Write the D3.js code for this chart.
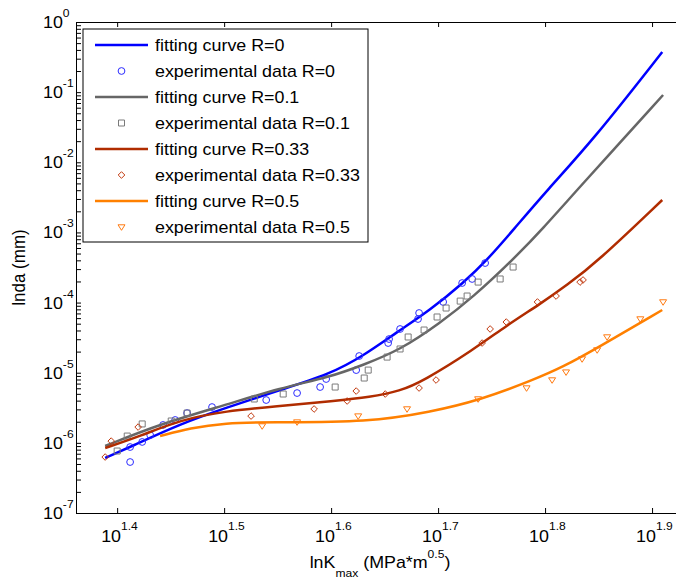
<!DOCTYPE html>
<html>
<head>
<meta charset="utf-8">
<script src="https://cdn.jsdelivr.net/npm/d3@7"></script>
<style>
  body { margin: 0; background: #fff; }
  text { font-family: Arial, "Liberation Sans", sans-serif; fill: #000; }
</style>
</head>
<body>
<div id="chart"></div>
<script>
// values (x in MPa*m^0.5, y in mm)
const fitX_R0 = [24.48, 25.83, 28.77, 31.70, 35.68, 39.73, 42.65, 45.88, 49.26, 52.90, 55.70, 58.90, 63.39, 69.98, 81.19];
const fitY_R0 = [6.08e-7, 8.72e-7, 1.86e-6, 3.14e-6, 5.66e-6, 9.58e-6, 1.73e-5, 3.80e-5, 7.83e-5, 1.90e-4, 4.04e-4, 1.08e-3, 4.03e-3, 2.08e-2, 0.373];
const dataX_R0 = [25.83, 25.83, 26.51, 26.97, 27.73, 28.46, 29.20, 30.81, 34.62, 37.00, 38.88, 39.39, 42.02, 42.29, 45.01, 45.10, 46.18, 48.00, 48.11, 50.67, 52.78, 53.93, 55.46];
const dataY_R0 = [5.33e-7, 8.72e-7, 1.03e-6, 1.29e-6, 1.80e-6, 2.12e-6, 2.66e-6, 3.24e-6, 4.08e-6, 5.13e-6, 6.25e-6, 8.13e-6, 1.09e-5, 1.73e-5, 2.65e-5, 3.02e-5, 4.20e-5, 5.83e-5, 7.10e-5, 1.02e-4, 1.90e-4, 2.17e-4, 3.66e-4];

const fitX_R01 = [24.48, 27.55, 31.70, 35.68, 39.73, 42.65, 46.18, 50.33, 54.04, 58.90, 62.84, 67.59, 81.34];
const fitY_R01 = [9.01e-7, 1.86e-6, 3.46e-6, 6.05e-6, 8.69e-6, 1.29e-5, 2.11e-5, 5.11e-5, 1.20e-4, 4.10e-4, 1.15e-3, 4.03e-3, 0.0910];
const dataX_R01 = [25.12, 25.67, 26.51, 28.22, 29.20, 33.74, 35.91, 40.16, 42.75, 43.12, 44.91, 46.18, 46.99, 48.63, 50.01, 50.99, 52.56, 53.35, 54.63, 57.28, 58.90];
const dataY_R01 = [7.65e-7, 1.25e-6, 1.86e-6, 2.05e-6, 2.66e-6, 4.22e-6, 4.97e-6, 6.25e-6, 8.40e-6, 1.09e-5, 1.67e-5, 2.18e-5, 3.23e-5, 4.06e-5, 6.23e-5, 8.36e-5, 1.05e-4, 1.24e-4, 1.96e-4, 2.17e-4, 3.21e-4];

const fitX_R033 = [24.48, 26.40, 28.77, 31.70, 35.68, 39.99, 43.30, 46.18, 48.53, 54.04, 58.16, 62.43, 66.16, 70.58, 81.19];
const fitY_R033 = [8.44e-7, 1.25e-6, 2.12e-6, 2.85e-6, 3.35e-6, 3.95e-6, 4.50e-6, 5.48e-6, 7.60e-6, 2.11e-5, 4.79e-5, 9.54e-5, 1.78e-4, 3.79e-4, 2.90e-3];
const dataX_R033 = [24.48, 24.80, 26.28, 33.51, 38.38, 41.21, 42.02, 44.73, 48.11, 49.90, 55.10, 56.06, 58.04, 62.07, 64.61, 68.03, 68.47];
const dataY_R033 = [6.28e-7, 1.06e-6, 1.68e-6, 2.41e-6, 3.04e-6, 3.95e-6, 5.48e-6, 4.97e-6, 6.05e-6, 7.87e-6, 2.65e-5, 4.20e-5, 5.28e-5, 1.02e-4, 1.24e-4, 1.96e-4, 2.10e-4];

const fitX_R05 = [27.55, 29.39, 31.70, 34.69, 43.30, 49.26, 54.86, 61.49, 65.59, 70.58, 81.19];
const fitY_R05 = [1.25e-6, 1.63e-6, 1.92e-6, 1.98e-6, 1.98e-6, 2.75e-6, 4.08e-6, 7.87e-6, 1.21e-5, 2.25e-5, 7.84e-5];
const dataX_R05 = [34.32, 37.00, 42.20, 46.88, 54.63, 60.63, 64.06, 66.01, 68.33, 70.58, 72.11, 77.45, 81.34];
const dataY_R05 = [1.74e-6, 1.98e-6, 2.41e-6, 3.04e-6, 4.22e-6, 6.05e-6, 7.87e-6, 1.02e-5, 1.57e-5, 2.11e-5, 3.23e-5, 5.83e-5, 1.02e-4];

const rLabels = ["0", "0.1", "0.33", "0.5"];
const xTickExps = ["1.4", "1.5", "1.6", "1.7", "1.8", "1.9"];
const yTickExps = ["-7", "-6", "-5", "-4", "-3", "-2", "-1", "0"];
const xDomain = [22.99, 84.72];
const yDomain = [1e-7, 1];

var width = 676, height = 581;
var margin = { top: 22, right: -6, bottom: 68, left: 76 };
var plotW = width - margin.left - margin.right;
var plotH = height - margin.top - margin.bottom;
var sx = 1.05; // glyphs in the figure are slightly wide

var series = [
  { fx: fitX_R0, fy: fitY_R0, dx: dataX_R0, dy: dataY_R0, line: "#0000ff", mark: "#2b2bff", shape: "circle" },
  { fx: fitX_R01, fy: fitY_R01, dx: dataX_R01, dy: dataY_R01, line: "#666666", mark: "#7a7a7a", shape: "square" },
  { fx: fitX_R033, fy: fitY_R033, dx: dataX_R033, dy: dataY_R033, line: "#b02c00", mark: "#c23a10", shape: "diamond" },
  { fx: fitX_R05, fy: fitY_R05, dx: dataX_R05, dy: dataY_R05, line: "#ff8000", mark: "#ff7a10", shape: "triangle" }
];

function markerPath(shape) {
  if (shape === "circle") return d3.symbol().type(d3.symbolCircle).size(36)();
  if (shape === "square") return "M-3,-3h6v6h-6z";
  if (shape === "diamond") return "M0,-3.3L3.3,0L0,3.3L-3.3,0Z";
  return "M-3.5,-2.2L3.5,-2.2L0,3.3Z";
}

var svg = d3.select("#chart")
  .append("svg")
  .attr("width", width)
  .attr("height", height);

var g = svg.append("g")
  .attr("transform", "translate(" + margin.left + "," + margin.top + ")");

var x = d3.scaleLog().domain(xDomain).range([0, plotW]);
var y = d3.scaleLog().domain(yDomain).range([plotH, 0]);

g.append("clipPath").attr("id", "plotclip")
  .append("rect").attr("width", plotW).attr("height", plotH);

// axes, ticks pointing inward
var xTickVals = xTickExps.map(function (e) { return Math.pow(10, +e); });
var yMinor = [];
yTickExps.forEach(function (e) {
  for (var k = 1; k < 10; k++) {
    var v = k * Math.pow(10, +e);
    if (v <= 1) yMinor.push(v);
  }
});

g.append("g")
  .attr("transform", "translate(0," + plotH + ")")
  .call(d3.axisBottom(x).tickValues(xTickVals).tickSizeInner(-5).tickSizeOuter(0).tickFormat(function () { return ""; }));
g.append("g")
  .call(d3.axisTop(x).tickValues(xTickVals).tickSizeInner(-5).tickSizeOuter(0).tickFormat(function () { return ""; }));
g.append("g")
  .call(d3.axisLeft(y).tickValues(yMinor).tickSizeInner(-5).tickSizeOuter(0).tickFormat(function () { return ""; }));
g.append("g")
  .attr("transform", "translate(" + plotW + ",0)")
  .call(d3.axisRight(y).tickValues(yMinor).tickSizeInner(-5).tickSizeOuter(0).tickFormat(function () { return ""; }));
g.selectAll(".domain, .tick line").attr("stroke", "#000").attr("stroke-width", 1);

// x tick labels: 10^e
xTickExps.forEach(function (e) {
  var t = g.append("text")
    .attr("transform", "translate(" + (x(Math.pow(10, +e)) - 16) + "," + (plotH + 29) + ") scale(" + sx + ",1)")
    .style("font-size", "17px");
  t.append("tspan").text("10");
  t.append("tspan").attr("dy", -12).style("font-size", "11.5px").text(e);
});

// y tick labels
yTickExps.forEach(function (e) {
  var t = g.append("text")
    .attr("transform", "translate(" + (43 - margin.left) + "," + (y(Math.pow(10, +e)) + 6) + ") scale(" + sx + ",1)")
    .style("font-size", "17px");
  t.append("tspan").text("10");
  t.append("tspan").attr("dy", -11).style("font-size", "11.5px").text(e);
});

// axis titles
var xt = g.append("text")
  .attr("transform", "translate(" + (380 - margin.left) + "," + (568 - margin.top) + ") scale(" + sx + ",1)")
  .attr("text-anchor", "middle")
  .style("font-size", "17px");
xt.append("tspan").text("lnK");
xt.append("tspan").attr("dy", 9).style("font-size", "11.5px").text("max");
xt.append("tspan").attr("dy", -9).text(" (MPa*m");
xt.append("tspan").attr("dy", -10).style("font-size", "11.5px").text("0.5");
xt.append("tspan").attr("dy", 10).text(")");

g.append("text")
  .attr("transform", "translate(" + (25 - margin.left) + "," + (plotH / 2) + ") rotate(-90) scale(1," + sx + ")")
  .attr("text-anchor", "middle")
  .style("font-size", "17px")
  .text("lnda (mm)");

// curves and data points
var plot = g.append("g").attr("clip-path", "url(#plotclip)");
var valueline = d3.line()
  .x(function (d) { return x(d[0]); })
  .y(function (d) { return y(d[1]); })
  .curve(d3.curveBasis);

series.forEach(function (s) {
  plot.append("path")
    .datum(d3.zip(s.fx, s.fy))
    .attr("d", valueline)
    .attr("fill", "none")
    .attr("stroke", s.line)
    .attr("stroke-width", 2.5)
    .attr("stroke-linejoin", "round");

  plot.selectAll(null)
    .data(d3.zip(s.dx, s.dy))
    .enter()
    .append("path")
    .attr("d", markerPath(s.shape))
    .attr("transform", function (d) { return "translate(" + x(d[0]) + "," + y(d[1]) + ")"; })
    .attr("fill", "none")
    .attr("stroke", s.mark)
    .attr("stroke-width", 1);
});

// legend
var legend = svg.append("g").attr("transform", "translate(83,29)");
legend.append("rect")
  .attr("width", 285).attr("height", 213)
  .attr("fill", "#fff").attr("stroke", "#000").attr("stroke-width", 1);

series.forEach(function (s, i) {
  var y0 = 16 + i * 52;
  legend.append("line")
    .attr("x1", 12).attr("x2", 65).attr("y1", y0).attr("y2", y0)
    .attr("stroke", s.line).attr("stroke-width", 2.5);
  legend.append("text")
    .attr("transform", "translate(72," + (y0 + 6) + ") scale(" + sx + ",1)")
    .style("font-size", "17px")
    .text("fitting curve R=" + rLabels[i]);
  legend.append("path")
    .attr("d", markerPath(s.shape))
    .attr("transform", "translate(38.5," + (y0 + 26) + ")")
    .attr("fill", "none").attr("stroke", s.mark).attr("stroke-width", 1);
  legend.append("text")
    .attr("transform", "translate(72," + (y0 + 32) + ") scale(" + sx + ",1)")
    .style("font-size", "17px")
    .text("experimental data R=" + rLabels[i]);
});
</script>
</body>
</html>
